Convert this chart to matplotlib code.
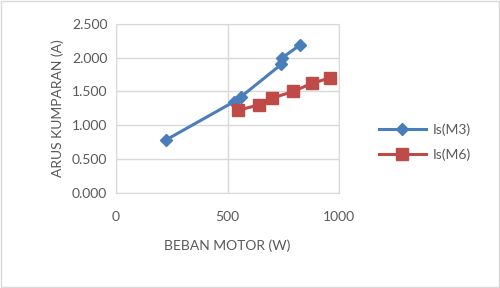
import matplotlib.pyplot as plt

# data
beban_m3 = [224, 530, 560, 740, 745, 825]
arus_m3 = [0.78, 1.35, 1.42, 1.90, 2.00, 2.19]
beban_m6 = [545, 640, 698, 794, 877, 958]
arus_m6 = [1.22, 1.30, 1.40, 1.50, 1.62, 1.70]

x_ticks = [0, 500, 1000]
y_ticks = [0.0, 0.5, 1.0, 1.5, 2.0, 2.5]

text_color = "#595959"
grid_color = "#d9d9d9"
plt.rcParams["font.family"] = ["Lato", "DejaVu Sans"]

fig = plt.figure(figsize=(5.0, 2.88), dpi=100)
ax = fig.add_axes([0.2314, 0.331, 0.4472, 0.5857])

ax.plot(beban_m3, arus_m3, color="#4a7ebb", lw=2.2, marker="D", ms=6,
        label="Is(M3)", zorder=3)
ax.plot(beban_m6, arus_m6, color="#be4b48", lw=2.2, marker="s", ms=8,
        label="Is(M6)", zorder=3)

ax.set_xlim(0, 1000)
ax.set_ylim(0, 2.5)
ax.set_xticks(x_ticks)
ax.set_yticks(y_ticks)
ax.set_yticklabels([f"{v:.3f}" for v in y_ticks])
ax.grid(True, color=grid_color, lw=1)
ax.set_axisbelow(True)
for s in ax.spines.values():
    s.set_color(grid_color)
ax.tick_params(length=0, colors=text_color, labelsize=10, pad=6)
ax.tick_params(axis="x", pad=13)

ax.set_xlabel("BEBAN MOTOR (W)", color=text_color, fontsize=10, labelpad=12)
ax.set_ylabel("ARUS KUMPARAN (A)", color=text_color, fontsize=10, labelpad=6)

leg = ax.legend(loc="center left", bbox_to_anchor=(1.12, 0.3), frameon=False,
                fontsize=10, handlelength=3.4, handletextpad=0.5, labelspacing=0.9)
for t in leg.get_texts():
    t.set_color(text_color)

# light border around the whole chart
fig.patches.append(plt.Rectangle((0.002, 0.003), 0.996, 0.994, transform=fig.transFigure,
                                 fill=False, edgecolor=grid_color, lw=1))

fig.savefig("out.png", dpi=100)
